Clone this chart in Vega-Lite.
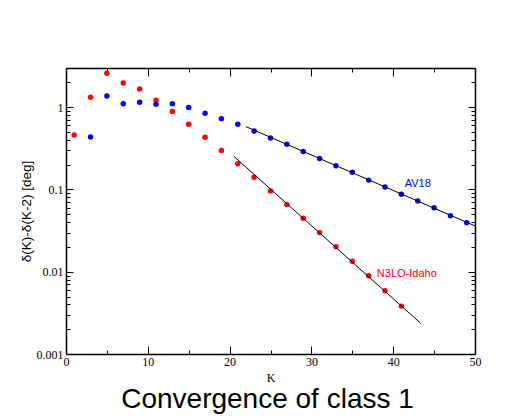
{
  "$schema": "https://vega.github.io/schema/vega-lite/v6.json",
  "width": 409,
  "height": 286,
  "autosize": {"type": "none"},
  "padding": {"left": 66, "top": 68, "right": 56, "bottom": 62},
  "background": "white",
  "title": {
    "text": "Convergence of class 1",
    "orient": "bottom",
    "anchor": "middle",
    "font": "Liberation Sans",
    "fontSize": 28,
    "fontWeight": "normal",
    "color": "black",
    "offset": 3,
    "dx": -3
  },
  "datasets": {
    "points": [
      {"K": 1, "val": 0.46, "model": "N3LO-Idaho"},
      {"K": 3, "val": 1.32, "model": "N3LO-Idaho"},
      {"K": 5, "val": 2.59, "model": "N3LO-Idaho"},
      {"K": 7, "val": 1.97, "model": "N3LO-Idaho"},
      {"K": 9, "val": 1.67, "model": "N3LO-Idaho"},
      {"K": 11, "val": 1.22, "model": "N3LO-Idaho"},
      {"K": 13, "val": 0.885, "model": "N3LO-Idaho"},
      {"K": 15, "val": 0.62, "model": "N3LO-Idaho"},
      {"K": 17, "val": 0.432, "model": "N3LO-Idaho"},
      {"K": 19, "val": 0.297, "model": "N3LO-Idaho"},
      {"K": 21, "val": 0.205, "model": "N3LO-Idaho"},
      {"K": 23, "val": 0.141, "model": "N3LO-Idaho"},
      {"K": 25, "val": 0.0962, "model": "N3LO-Idaho"},
      {"K": 27, "val": 0.0656, "model": "N3LO-Idaho"},
      {"K": 29, "val": 0.0448, "model": "N3LO-Idaho"},
      {"K": 31, "val": 0.0299, "model": "N3LO-Idaho"},
      {"K": 33, "val": 0.0202, "model": "N3LO-Idaho"},
      {"K": 35, "val": 0.01345, "model": "N3LO-Idaho"},
      {"K": 37, "val": 0.00892, "model": "N3LO-Idaho"},
      {"K": 39, "val": 0.00586, "model": "N3LO-Idaho"},
      {"K": 41, "val": 0.00382, "model": "N3LO-Idaho"},
      {"K": 3, "val": 0.435, "model": "AV18"},
      {"K": 5, "val": 1.37, "model": "AV18"},
      {"K": 7, "val": 1.10, "model": "AV18"},
      {"K": 9, "val": 1.15, "model": "AV18"},
      {"K": 11, "val": 1.09, "model": "AV18"},
      {"K": 13, "val": 1.10, "model": "AV18"},
      {"K": 15, "val": 0.99, "model": "AV18"},
      {"K": 17, "val": 0.845, "model": "AV18"},
      {"K": 19, "val": 0.727, "model": "AV18"},
      {"K": 21, "val": 0.62, "model": "AV18"},
      {"K": 23, "val": 0.515, "model": "AV18"},
      {"K": 25, "val": 0.424, "model": "AV18"},
      {"K": 27, "val": 0.355, "model": "AV18"},
      {"K": 29, "val": 0.289, "model": "AV18"},
      {"K": 31, "val": 0.238, "model": "AV18"},
      {"K": 33, "val": 0.195, "model": "AV18"},
      {"K": 35, "val": 0.162, "model": "AV18"},
      {"K": 37, "val": 0.130, "model": "AV18"},
      {"K": 39, "val": 0.107, "model": "AV18"},
      {"K": 41, "val": 0.0877, "model": "AV18"},
      {"K": 43, "val": 0.0727, "model": "AV18"},
      {"K": 45, "val": 0.0598, "model": "AV18"},
      {"K": 47, "val": 0.0478, "model": "AV18"},
      {"K": 49, "val": 0.0393, "model": "AV18"}
    ],
    "fits": [
      {"K": 22, "val": 0.581, "model": "AV18"},
      {"K": 50, "val": 0.0361, "model": "AV18"},
      {"K": 20.5, "val": 0.254, "model": "N3LO-Idaho"},
      {"K": 43.35, "val": 0.00237, "model": "N3LO-Idaho"}
    ],
    "labels": [
      {"K": 41.4, "val": 0.117, "model": "AV18"},
      {"K": 38.0, "val": 0.00942, "model": "N3LO-Idaho"}
    ]
  },
  "layer": [
    {
      "data": {"name": "points"},
      "mark": {"type": "circle", "size": 30, "opacity": 1},
      "encoding": {
        "x": {
          "field": "K",
          "type": "quantitative",
          "scale": {"domain": [0, 50], "nice": false, "zero": false},
          "axis": {
            "orient": "bottom",
            "values": [0, 5, 10, 15, 20, 25, 30, 35, 40, 45, 50],
            "format": "d",
            "labelExpr": "datum.value % 10 == 0 ? datum.label : ''",
            "labelFont": "Liberation Serif",
            "labelFontSize": 12,
            "labelColor": "black",
            "labelPadding": 10,
            "labelFlush": false,
            "labelOverlap": false,
            "title": "K",
            "titleFont": "Liberation Serif",
            "titleFontSize": 12,
            "titleFontWeight": "normal",
            "titleColor": "black",
            "titlePadding": 1,
            "tickColor": "black",
            "tickWidth": 1,
            "tickSize": {"condition": {"test": "datum.value % 10 == 0", "value": -8}, "value": -4},
            "domainColor": "black",
            "domainWidth": 1.5,
            "grid": false
          }
        },
        "y": {
          "field": "val",
          "type": "quantitative",
          "scale": {"type": "log", "domain": [0.001, 3], "nice": false},
          "axis": {
            "orient": "left",
            "values": [0.001, 0.002, 0.003, 0.004, 0.005, 0.006, 0.007, 0.008, 0.009, 0.01, 0.02, 0.03, 0.04, 0.05, 0.06, 0.07, 0.08, 0.09, 0.1, 0.2, 0.3, 0.4, 0.5, 0.6, 0.7, 0.8, 0.9, 1, 2],
            "labelExpr": "indexof([0.001, 0.01, 0.1, 1], datum.value) >= 0 ? '' + datum.value : ''",
            "labelFont": "Liberation Serif",
            "labelFontSize": 12,
            "labelColor": "black",
            "labelPadding": 10,
            "labelFlush": false,
            "labelOverlap": false,
            "title": "δ(K)-δ(K-2) [deg]",
            "titleFont": "Liberation Sans",
            "titleFontSize": 13.5,
            "titleFontWeight": "normal",
            "titleColor": "black",
            "titlePadding": 3,
            "tickColor": "black",
            "tickWidth": 1,
            "tickSize": {"condition": {"test": "indexof([0.001, 0.01, 0.1, 1], datum.value) >= 0", "value": -7}, "value": -4},
            "domainColor": "black",
            "domainWidth": 1.5,
            "grid": false
          }
        },
        "color": {
          "field": "model",
          "type": "nominal",
          "scale": {"domain": ["AV18", "N3LO-Idaho"], "range": ["#0000ff", "#ff0000"]},
          "legend": null
        }
      }
    },
    {
      "data": {"name": "fits"},
      "mark": {"type": "line", "color": "black", "strokeWidth": 1},
      "encoding": {
        "x": {
          "field": "K",
          "type": "quantitative",
          "axis": {
            "orient": "top",
            "values": [0, 5, 10, 15, 20, 25, 30, 35, 40, 45, 50],
            "labels": false,
            "title": null,
            "tickColor": "black",
            "tickWidth": 1,
            "tickSize": {"condition": {"test": "datum.value % 10 == 0", "value": -8}, "value": -4},
            "domainColor": "black",
            "domainWidth": 1.5,
            "grid": false
          }
        },
        "y": {
          "field": "val",
          "type": "quantitative",
          "axis": {
            "orient": "right",
            "values": [0.001, 0.002, 0.003, 0.004, 0.005, 0.006, 0.007, 0.008, 0.009, 0.01, 0.02, 0.03, 0.04, 0.05, 0.06, 0.07, 0.08, 0.09, 0.1, 0.2, 0.3, 0.4, 0.5, 0.6, 0.7, 0.8, 0.9, 1, 2],
            "labels": false,
            "title": null,
            "tickColor": "black",
            "tickWidth": 1,
            "tickSize": {"condition": {"test": "indexof([0.001, 0.01, 0.1, 1], datum.value) >= 0", "value": -7}, "value": -4},
            "domainColor": "black",
            "domainWidth": 1.5,
            "grid": false
          }
        },
        "detail": {"field": "model", "type": "nominal"}
      }
    },
    {
      "data": {"name": "labels"},
      "mark": {"type": "text", "align": "left", "baseline": "middle", "font": "Liberation Sans", "fontSize": 11},
      "encoding": {
        "x": {"field": "K", "type": "quantitative", "axis": null},
        "y": {"field": "val", "type": "quantitative", "axis": null},
        "text": {"field": "model", "type": "nominal"},
        "color": {"field": "model", "type": "nominal", "legend": null}
      }
    }
  ],
  "resolve": {"axis": {"x": "independent", "y": "independent"}},
  "config": {"view": {"stroke": null}}
}
